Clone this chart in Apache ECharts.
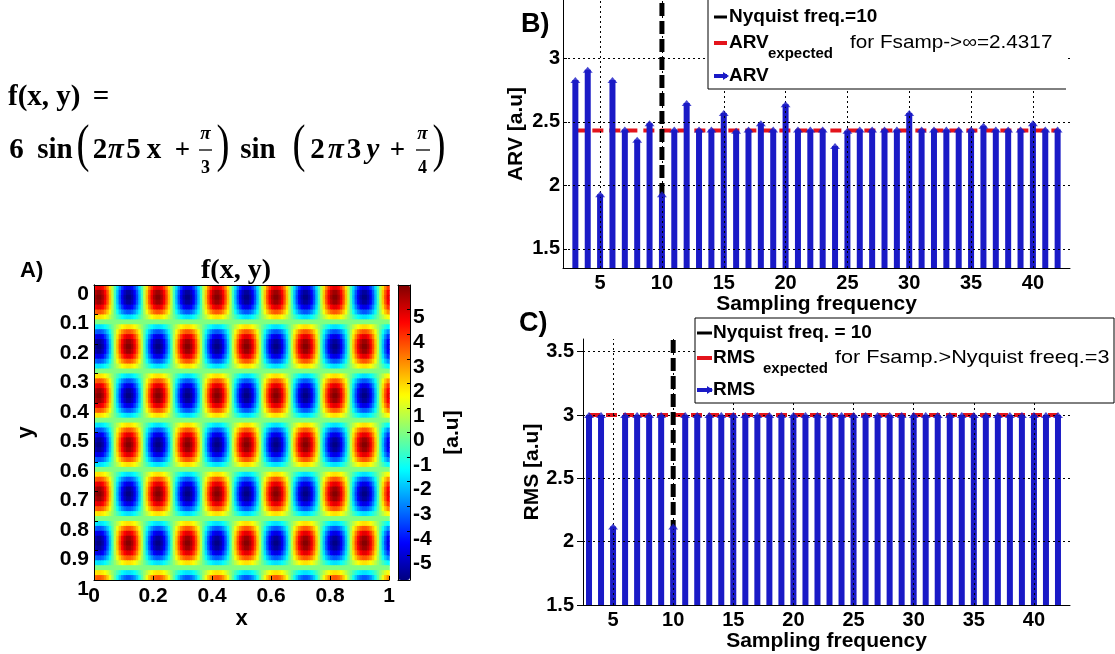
<!DOCTYPE html>
<html><head><meta charset="utf-8">
<script src="https://cdn.jsdelivr.net/npm/echarts@6/dist/echarts.min.js"></script>
<style>html,body{margin:0;padding:0;background:#fff}#c{width:1115px;height:654px}</style>
</head><body><div id="c"></div><script>
// ---------------- data ----------------
const freqs = [3,4,5,6,7,8,9,10,11,12,13,14,15,16,17,18,19,20,21,22,23,24,25,26,27,28,29,30,31,32,33,34,35,36,37,38,39,40,41,42];
const arvValues = [2.83,2.91,1.93,2.83,2.44,2.36,2.49,1.93,2.44,2.65,2.44,2.44,2.57,2.43,2.44,2.49,2.44,2.64,2.44,2.44,2.44,2.31,2.43,2.44,2.44,2.44,2.44,2.57,2.44,2.44,2.44,2.44,2.44,2.47,2.44,2.44,2.44,2.49,2.44,2.44];
const rmsValues = [3,3,2.12,3,3,3,3,2.12,3,3,3,3,3,3,3,3,3,3,3,3,3,3,3,3,3,3,3,3,3,3,3,3,3,3,3,3,3,3,3,3];
const arvExpected = 2.4317;
const rmsExpected = 3;
const nyquist = 10;
const nyquistTop = 3.6;
const freqTicks = [5,10,15,20,25,30,35,40];
const arvTicks = [1.5,2,2.5,3];
const rmsTicks = [1.5,2,2.5,3,3.5];
const colorbarTicks = [-5,-4,-3,-2,-1,0,1,2,3,4,5];
// f(x,y) map: amplitude and the sampled profiles along x (columns) and y (rows)
const amplitude = 6;
const xProfile = [
 0.924,0.991,0.991,0.924,0.793,0.609,0.383,0.131,-0.131,-0.383,-0.609,-0.793,-0.924,-0.991,-0.991,-0.924,-0.793,-0.609,-0.383,-0.131,0.131,0.383,0.609,0.793,
 0.924,0.991,0.991,0.924,0.793,0.609,0.383,0.131,-0.131,-0.383,-0.609,-0.793,-0.924,-0.991,-0.991,-0.924,-0.793,-0.609,-0.383,-0.131,0.131,0.383,0.609,0.793,
 0.924,0.991,0.991,0.924,0.793,0.609,0.383,0.131,-0.131,-0.383,-0.609,-0.793,-0.924,-0.991,-0.991,-0.924,-0.793,-0.609,-0.383,-0.131,0.131,0.383,0.609,0.793,
 0.924,0.991,0.991,0.924,0.793,0.609,0.383,0.131,-0.131,-0.383,-0.609,-0.793,-0.924,-0.991,-0.991,-0.924,-0.793,-0.609,-0.383,-0.131,0.131,0.383,0.609,0.793,
 0.924,0.991,0.991,0.924,0.793,0.609,0.383,0.131,-0.131,-0.383,-0.609,-0.793,-0.924,-0.991,-0.991,-0.924,-0.793,-0.609,-0.383,-0.131,0.131,0.383,0.609,0.793
];
const yProfile = [
 0.809,0.951,1,0.951,0.809,0.588,0.309,0,-0.309,-0.588,-0.809,-0.951,-1,-0.951,-0.809,-0.588,-0.309,0,0.309,0.588,
 0.809,0.951,1,0.951,0.809,0.588,0.309,0,-0.309,-0.588,-0.809,-0.951,-1,-0.951,-0.809,-0.588,-0.309,0,0.309,0.588,
 0.809,0.951,1,0.951,0.809,0.588,0.309,0,-0.309,-0.588,-0.809,-0.951,-1,-0.951,-0.809,-0.588,-0.309,0,0.309,0.588
];

// ---------------- build ----------------
const heatData = [];
for (let j = 0; j < yProfile.length; j++)
  for (let i = 0; i < xProfile.length; i++)
    heatData.push([i, j, amplitude * xProfile[i] * yProfile[j]]);
const xCells = xProfile.map((_, i) => i);
const yCells = yProfile.map((_, j) => j);
const arvPts = freqs.map((f, i) => [f, arvValues[i]]);
const rmsPts = freqs.map((f, i) => [f, rmsValues[i]]);

const SANS = 'Liberation Sans';
const SERIF = 'Liberation Serif';
const BLUE = '#1a1ac6';
const RED = '#e3141c';
const lbl = (sz) => ({fontFamily: SANS, fontWeight: 'bold', fontSize: sz, color: '#000'});
const jet = ['#000080','#0000ff','#0080ff','#00ffff','#80ff80','#ffff00','#ff8000','#ff0000','#800000'];
const gridDot = {color: '#000', type: [2, 3], width: 1};

const chart = echarts.init(document.getElementById('c'), null, {renderer: 'canvas'});

const option = {
  animation: false,
  backgroundColor: '#fff',
  grid: [
    {left: 94, top: 285, width: 295, height: 295},
    {left: 398, top: 285, width: 12, height: 295},
    {left: 563, top: 0, width: 507, height: 268},
    {left: 583, top: 339, width: 487, height: 266}
  ],
  xAxis: [
    {type: 'category', gridIndex: 0, data: xCells, position: 'top', z: 10,
     axisLine: {show: true, lineStyle: {color: '#000', width: 1}}, axisTick: {show: false}, axisLabel: {show: false}, splitLine: {show: false}},
    {type: 'value', gridIndex: 0, min: 0, max: 1, interval: 0.2, position: 'bottom', z: 10,
     axisLine: {show: true, onZero: false, lineStyle: {color: '#000', width: 1}},
     axisTick: {show: true, inside: true, length: 4, lineStyle: {color: '#000'}},
     axisLabel: Object.assign(lbl(21), {margin: 6}), splitLine: {show: false},
     name: 'x', nameLocation: 'middle', nameGap: 27, nameTextStyle: lbl(22)},
    {type: 'value', gridIndex: 1, min: 0, max: 1, position: 'bottom', z: 10,
     axisLine: {show: true, onZero: false, lineStyle: {color: '#000'}}, axisTick: {show: false}, axisLabel: {show: false}, splitLine: {show: false}},
    {type: 'value', gridIndex: 1, min: 0, max: 1, position: 'top', z: 10,
     axisLine: {show: true, onZero: false, lineStyle: {color: '#000'}}, axisTick: {show: false}, axisLabel: {show: false}, splitLine: {show: false}},
    {type: 'value', gridIndex: 2, min: 2, max: 43, position: 'bottom',
     axisLine: {show: true, onZero: false, lineStyle: {color: '#000', width: 1}},
     axisTick: {show: true, inside: true, length: 4, customValues: freqTicks, lineStyle: {color: '#000'}},
     axisLabel: Object.assign(lbl(20), {margin: 5, customValues: freqTicks}), splitLine: {show: false},
     name: 'Sampling frequency', nameLocation: 'middle', nameGap: 22, nameTextStyle: lbl(21)},
    {type: 'value', gridIndex: 3, min: 2.5, max: 43, position: 'bottom',
     axisLine: {show: true, onZero: false, lineStyle: {color: '#000', width: 1}},
     axisTick: {show: true, inside: true, length: 4, customValues: freqTicks, lineStyle: {color: '#000'}},
     axisLabel: Object.assign(lbl(20), {margin: 5, customValues: freqTicks}), splitLine: {show: false},
     name: 'Sampling frequency', nameLocation: 'middle', nameGap: 22, nameTextStyle: lbl(21)}
  ],
  yAxis: [
    {type: 'category', gridIndex: 0, data: yCells, inverse: true, position: 'right', z: 10,
     axisLine: {show: true, lineStyle: {color: '#000', width: 1}}, axisTick: {show: false}, axisLabel: {show: false}, splitLine: {show: false}},
    {type: 'value', gridIndex: 0, min: 0, max: 1, interval: 0.1, inverse: true, position: 'left', z: 10,
     axisLine: {show: true, onZero: false, lineStyle: {color: '#000', width: 1}},
     axisTick: {show: true, inside: true, length: 4, lineStyle: {color: '#000'}},
     axisLabel: Object.assign(lbl(21), {margin: 5, verticalAlign: 'top', lineHeight: 18}), splitLine: {show: false},
     name: 'y', nameLocation: 'middle', nameGap: 57, nameRotate: 90, nameTextStyle: lbl(22)},
    {type: 'value', gridIndex: 1, min: -6, max: 6, position: 'right', z: 10,
     axisLine: {show: true, onZero: false, lineStyle: {color: '#000'}},
     axisTick: {show: true, inside: true, length: 3, customValues: colorbarTicks, lineStyle: {color: '#000'}},
     axisLabel: Object.assign(lbl(21), {margin: 3, customValues: colorbarTicks, verticalAlign: 'top', lineHeight: 16}), splitLine: {show: false},
     name: '[a.u]', nameLocation: 'middle', nameGap: 32, nameRotate: 90, nameTextStyle: lbl(21)},
    {type: 'value', gridIndex: 1, min: -6, max: 6, position: 'left', z: 10,
     axisLine: {show: true, onZero: false, lineStyle: {color: '#000'}}, axisTick: {show: false}, axisLabel: {show: false}, splitLine: {show: false}},
    {type: 'value', gridIndex: 2, min: 1.35, max: 3.46, position: 'left',
     axisLine: {show: true, onZero: false, lineStyle: {color: '#000', width: 1}},
     axisTick: {show: true, inside: true, length: 4, customValues: arvTicks, lineStyle: {color: '#000'}},
     axisLabel: Object.assign(lbl(20), {margin: 3, customValues: arvTicks}), splitLine: {show: false},
     name: 'ARV [a.u]', nameLocation: 'middle', nameGap: 36, nameRotate: 90, nameTextStyle: lbl(21)},
    {type: 'value', gridIndex: 3, min: 1.5, max: nyquistTop, position: 'left',
     axisLine: {show: true, onZero: false, lineStyle: {color: '#000', width: 1}},
     axisTick: {show: true, inside: false, length: 6, customValues: rmsTicks, lineStyle: {color: '#000'}},
     axisLabel: Object.assign(lbl(20), {margin: 9, customValues: rmsTicks}), splitLine: {show: false},
     name: 'RMS [a.u]', nameLocation: 'middle', nameGap: 38, nameRotate: 90, nameTextStyle: lbl(21)}
  ],
  visualMap: {
    type: 'continuous', min: -6, max: 6, seriesIndex: 0, dimension: 2, show: true, calculable: false, hoverLink: false,
    left: 398, top: 285, itemWidth: 12, itemHeight: 295, padding: 0, text: null,
    inRange: {color: jet}
  },
  series: [
    {type: 'custom', xAxisIndex: 0, yAxisIndex: 0, data: heatData, silent: true, clip: true, z: 2,
     renderItem: function (params, api) {
       const c = api.coord([api.value(0), api.value(1)]);
       const s = api.size([1, 1]);
       return {type: 'rect',
         shape: {x: c[0] - s[0] / 2, y: c[1] - s[1] / 2, width: s[0] + 0.8, height: s[1] + 0.8},
         style: {fill: api.visual('color')}};
     }},
    // ---- panel B ----
    {type: 'line', xAxisIndex: 4, yAxisIndex: 4, data: [], z: 1, silent: true,
     markLine: {silent: true, symbol: ['none','none'], label: {show: false}, lineStyle: gridDot,
       data: freqTicks.map(v => ({xAxis: v})).concat(arvTicks.map(v => ({yAxis: v})))}},
    {type: 'line', xAxisIndex: 4, yAxisIndex: 4, z: 2, symbol: 'none', silent: true,
     data: [[freqs[0], arvExpected], [freqs[freqs.length - 1], arvExpected]],
     lineStyle: {color: RED, width: 4, type: [11, 6]}},
    {type: 'line', xAxisIndex: 4, yAxisIndex: 4, z: 3, symbol: 'none', silent: true,
     data: [[nyquist, 1.35], [nyquist, nyquistTop]],
     lineStyle: {color: '#000', width: 5, type: [13, 5]}},
    {type: 'bar', xAxisIndex: 4, yAxisIndex: 4, z: 4, barWidth: 6, silent: true,
     data: arvPts, itemStyle: {color: BLUE}},
    {type: 'scatter', xAxisIndex: 4, yAxisIndex: 4, z: 5, silent: true,
     data: arvPts, symbol: 'triangle', symbolSize: [10, 6], itemStyle: {color: BLUE}},
    // ---- panel C ----
    {type: 'line', xAxisIndex: 5, yAxisIndex: 5, data: [], z: 1, silent: true,
     markLine: {silent: true, symbol: ['none','none'], label: {show: false}, lineStyle: gridDot,
       data: freqTicks.map(v => ({xAxis: v})).concat(rmsTicks.map(v => ({yAxis: v})))}},
    {type: 'line', xAxisIndex: 5, yAxisIndex: 5, z: 2, symbol: 'none', silent: true,
     data: [[freqs[0], rmsExpected], [freqs[freqs.length - 1], rmsExpected]],
     lineStyle: {color: RED, width: 4, type: [11, 6]}},
    {type: 'line', xAxisIndex: 5, yAxisIndex: 5, z: 3, symbol: 'none', silent: true,
     data: [[nyquist, 1.5], [nyquist, nyquistTop]],
     lineStyle: {color: '#000', width: 5, type: [13, 5]}},
    {type: 'bar', xAxisIndex: 5, yAxisIndex: 5, z: 4, barWidth: 6, silent: true,
     data: rmsPts, itemStyle: {color: BLUE}},
    {type: 'scatter', xAxisIndex: 5, yAxisIndex: 5, z: 5, silent: true,
     data: rmsPts, symbol: 'triangle', symbolSize: [10, 6], itemStyle: {color: BLUE}}
  ],
  graphic: []
};

// ---------- text / decorations (layout only) ----------
const G = [];
function T(x, y, text, font, align, extra) {
  G.push(Object.assign({type: 'text', x: x, y: y, z: 100, silent: true,
    style: {text: text, font: font, fill: '#000', textAlign: align || 'left', textVerticalAlign: 'middle'}}, extra || {}));
}
function L(x1, y1, x2, y2, color, w) {
  G.push({type: 'line', z: 101, silent: true, shape: {x1, y1, x2, y2}, style: {stroke: color, lineWidth: w}});
}
const FB = (s) => 'bold ' + s + 'px "' + SERIF + '"';
const FI = (s) => 'italic bold ' + s + 'px "' + SERIF + '"';
const FN = (s) => s + 'px "' + SERIF + '"';
const SB = (s) => 'bold ' + s + 'px "' + SANS + '"';
const SN = (s) => s + 'px "' + SANS + '"';

// formula
T(8, 98, 'f(x, y)', FB(29));
T(101, 98, '=', FB(29), 'center');
T(16.5, 151, '6', FB(29), 'center');
T(55, 151, 'sin', FB(29), 'center');
T(83, 147, '(', FN(52), 'center', {scaleX: 0.75});
T(100, 151, '2', FB(29), 'center');
T(116, 151, 'π', FI(29), 'center');
T(133.5, 151, '5', FB(29), 'center');
T(154, 151, 'x', FB(29), 'center');
T(182.5, 151, '+', FB(27), 'center');
T(205.5, 134, 'π', FI(19), 'center');
L(199, 150, 212, 150, '#000', 1.3);
T(205.5, 168, '3', FB(18), 'center');
T(223, 147, ')', FN(52), 'center', {scaleX: 0.75});
T(258, 151, 'sin', FB(29), 'center');
T(299, 147, '(', FN(52), 'center', {scaleX: 0.75});
T(317.5, 151, '2', FB(29), 'center');
T(336, 151, 'π', FI(29), 'center');
T(354, 151, '3', FB(29), 'center');
T(373, 151, 'y', FI(29), 'center');
T(397.5, 151, '+', FB(27), 'center');
T(422.5, 134, 'π', FI(19), 'center');
L(416, 150, 430, 150, '#000', 1.3);
T(422.5, 168, '4', FB(18), 'center');
T(439, 147, ')', FN(52), 'center', {scaleX: 0.75});

// panel A
T(20, 271, 'A)', SB(22));
T(236, 271, 'f(x, y)', FB(28), 'center');

// panel letters
T(521, 25, 'B)', SB(27));
T(519, 324, 'C)', SB(27));

// legend B
G.push({type: 'rect', z: 99, silent: true, shape: {x: 708, y: -2, width: 360, height: 91}, style: {fill: '#fff', stroke: null}});
L(708, -2, 708, 89, '#000', 1);
L(708, 89, 1066, 89, '#000', 1);
L(714, 17, 727, 17, '#000', 3);
T(729, 17, 'Nyquist freq.=10', SB(19));
L(714, 43, 727, 43, RED, 4);
T(729, 43, 'ARV', SB(19));
T(768, 54, 'expected', SB(15));
T(850, 43, 'for Fsamp->∞=2.4317', SN(19), 'left', {scaleX: 1.09});
L(714, 76, 727, 76, BLUE, 4);
G.push({type: 'polygon', z: 102, silent: true, shape: {points: [[723, 72], [729, 76], [723, 80]]}, style: {fill: BLUE}});
T(729, 76, 'ARV', SB(19));

// legend C
G.push({type: 'rect', z: 99, silent: true, shape: {x: 695, y: 318, width: 419, height: 85}, style: {fill: '#fff', stroke: '#000', lineWidth: 1}});
L(697, 333, 712, 333, '#000', 3);
T(713, 333, 'Nyquist freq. = 10', SB(19));
L(697, 358, 712, 358, RED, 4);
T(713, 358, 'RMS', SB(19));
T(763, 369, 'expected', SB(15));
T(835, 358, 'for Fsamp.>Nyquist freeq.=3', SN(19), 'left', {scaleX: 1.14});
L(697, 390, 712, 390, BLUE, 4);
G.push({type: 'polygon', z: 102, silent: true, shape: {points: [[707, 386], [713, 390], [707, 394]]}, style: {fill: BLUE}});
T(713, 390, 'RMS', SB(19));

option.graphic = G;
chart.setOption(option);
</script></body></html>
